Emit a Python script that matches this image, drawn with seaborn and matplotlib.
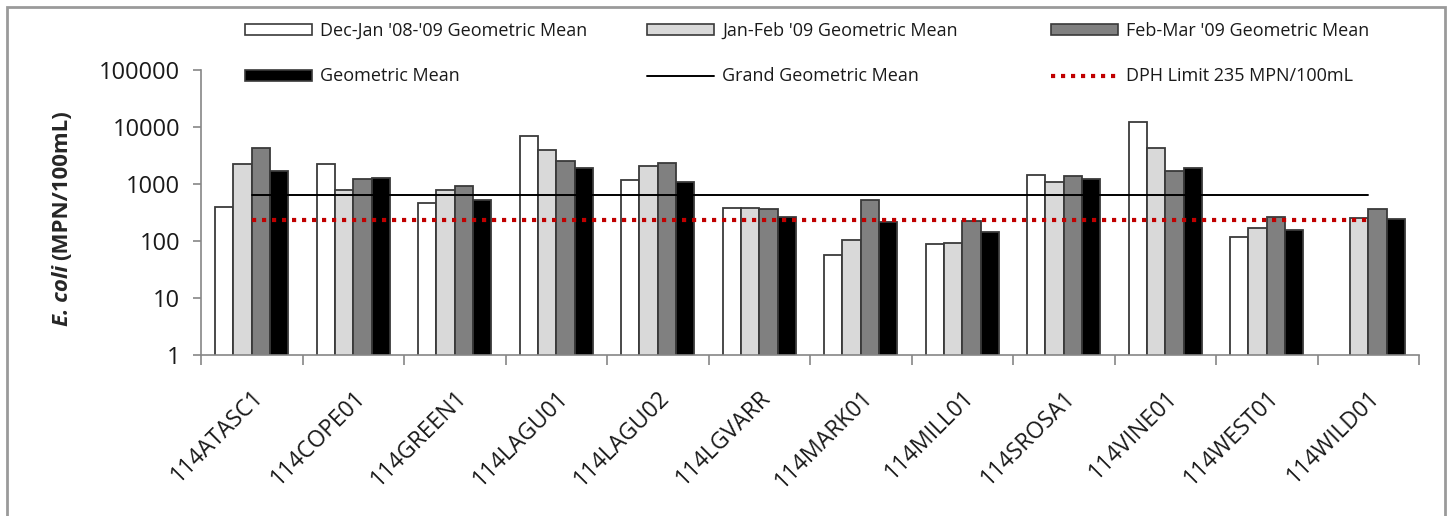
import numpy as np
import pandas as pd
import matplotlib
matplotlib.use("Agg")
import matplotlib.pyplot as plt
from matplotlib.patches import Patch, Rectangle
from matplotlib.lines import Line2D
from matplotlib.ticker import FixedLocator, NullFormatter
import seaborn as sns

sites = ["114ATASC1", "114COPE01", "114GREEN1", "114LAGU01", "114LAGU02", "114LGVARR",
         "114MARK01", "114MILL01", "114SROSA1", "114VINE01", "114WEST01", "114WILD01"]
periods = ["Dec-Jan '08-'09 Geometric Mean", "Jan-Feb '09 Geometric Mean",
           "Feb-Mar '09 Geometric Mean", "Geometric Mean"]
dec_jan = [400, 2200, 470, 7000, 1190, 380, 56, 89, 1450, 12300, 116, np.nan]
jan_feb = [2230, 785, 785, 3900, 2100, 380, 104, 93, 1085, 4350, 167, 250]
feb_mar = [4350, 1240, 910, 2560, 2350, 365, 520, 228, 1380, 1700, 260, 365]
geo_mean = [1700, 1250, 530, 1930, 1100, 268, 218, 144, 1210, 1930, 159, 240]
grand_mean = [640] * len(sites)
dph_limit = [235] * len(sites)
yticks = [1, 10, 100, 1000, 10000, 100000]

colors = ["#FFFFFF", "#D9D9D9", "#808080", "#000000"]

rows = []
for p, vals in zip(periods, [dec_jan, jan_feb, feb_mar, geo_mean]):
    for s, v in zip(sites, vals):
        rows.append({"site": s, "period": p, "value": v})
df = pd.DataFrame(rows)

sns.set_style("white")
plt.rcParams["font.family"] = ["Open Sans", "DejaVu Sans"]

fig = plt.figure(figsize=(14.5, 5.16), dpi=100)
ax = fig.add_axes([201 / 1450, 1 - 355 / 516, (1419 - 201) / 1450, (355 - 70) / 516])

sns.barplot(data=df, x="site", y="value", hue="period", order=sites, hue_order=periods,
            palette=colors, edgecolor="#3a3a3a", linewidth=1.3, width=0.72,
            errorbar=None, legend=False, ax=ax)
ax.set_yscale("log")

x = np.arange(len(sites))
ax.plot(x, grand_mean, color="black", lw=1.4, zorder=5)
ax.plot(x, dph_limit, color="#C00000", lw=3.0, linestyle=(0, (1, 1.4)), zorder=6)

ax.set_ylim(1, 100000)
ax.set_xlim(-0.5, len(sites) - 0.5)
ax.yaxis.set_major_locator(FixedLocator(yticks))
ax.yaxis.set_minor_locator(FixedLocator([]))
ax.set_yticklabels([str(v) for v in yticks])
ax.set_xticks(x)
ax.set_xticklabels(sites, rotation=45, ha="right", rotation_mode="anchor")
ax.xaxis.set_minor_locator(FixedLocator(np.arange(-0.5, len(sites), 1.0)))
ax.xaxis.set_minor_formatter(NullFormatter())
ax.tick_params(axis="x", which="major", length=0, pad=22, labelsize=16.5, labelcolor="#1a1a1a")
ax.tick_params(axis="x", which="minor", length=7, width=1.2, color="#868686", direction="out", bottom=True)
ax.tick_params(axis="y", which="major", length=6, width=1.2, color="#868686", direction="out",
               left=True, labelsize=17, labelcolor="#1a1a1a", pad=9)
for side in ["top", "right"]:
    ax.spines[side].set_visible(False)
for side in ["left", "bottom"]:
    ax.spines[side].set_color("#868686")
    ax.spines[side].set_linewidth(1.2)
ax.set_xlabel("")
ax.set_ylabel("")

# y label (two parts: italic bold + bold)
fig.canvas.draw()
r = fig.canvas.get_renderer()
t1 = fig.text(62 / 1450, 1 - 326 / 516, "E. coli", rotation=90, fontsize=16,
              fontweight="bold", fontstyle="italic", ha="center", va="bottom")
bb = t1.get_window_extent(renderer=r)
t2 = fig.text(62 / 1450, (bb.y1 + 5) / fig.bbox.height, "(MPN/100mL)", rotation=90,
              fontsize=16, fontweight="bold", ha="center", va="bottom")

# legends: three columns of two rows
handles = [Patch(facecolor=c, edgecolor="#3a3a3a", linewidth=1.2) for c in colors]
gm_line = Line2D([], [], color="black", lw=1.4)
dph_line = Line2D([], [], color="#C00000", lw=3.0, linestyle=(0, (1, 1.4)))
cols = [([handles[0], handles[3]], [periods[0], "Geometric Mean"], 245),
        ([handles[1], gm_line], [periods[1], "Grand Geometric Mean"], 647),
        ([handles[2], dph_line], [periods[2], "DPH Limit 235 MPN/100mL"], 1051)]
for hs, ls, xpx in cols:
    leg = fig.legend(hs, ls, loc="center left", bbox_to_anchor=(xpx / 1450, 1 - 53.5 / 516),
                     frameon=False, fontsize=13, handlelength=3.7, handleheight=0.55,
                     handletextpad=0.45, labelspacing=1.55, borderpad=0, borderaxespad=0)
    for txt in leg.get_texts():
        txt.set_color("#1a1a1a")

# outer border
fig.add_artist(Rectangle((7 / 1450, -0.02), (1445 - 7) / 1450, 1.02 - 7 / 516,
                         transform=fig.transFigure, fill=False, edgecolor="#9a9a9a", lw=2.0))

fig.savefig("out.png", dpi=100)
